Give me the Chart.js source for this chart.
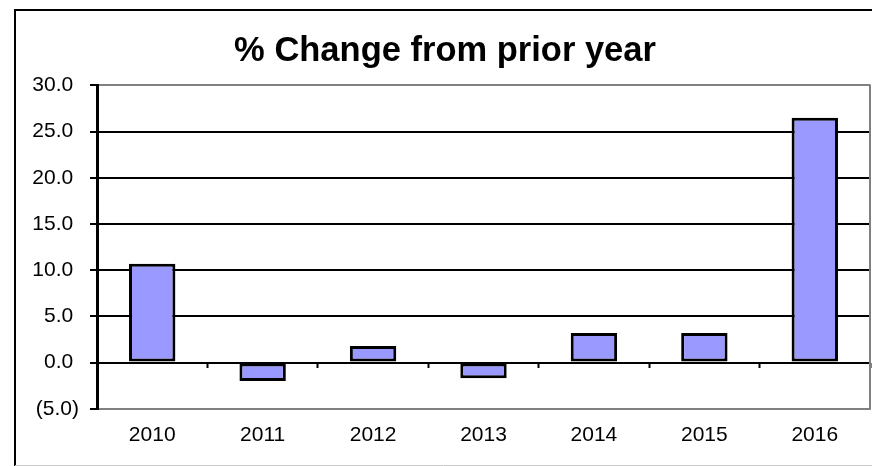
<!DOCTYPE html>
<html>
<head>
<meta charset="utf-8">
<script src="https://cdn.jsdelivr.net/npm/chart.js@4"></script>
<style>
  html, body { margin: 0; padding: 0; background: #fff; }
  #wrap { width: 872px; height: 466px; }
</style>
</head>
<body>
<div id="wrap"><canvas id="myChart" width="872" height="466"></canvas></div>
<script>
var years = ['2010', '2011', '2012', '2013', '2014', '2015', '2016'];
var pctChange = [10.7, -2.0, 1.8, -1.7, 3.2, 3.2, 26.5];
var yMin = -5, yMax = 30, yStep = 5;

function fmtTick(v) {
    // excel style: negatives in parens, positives padded for the paren
    return v < 0 ? '(' + Math.abs(v).toFixed(1) + ')' : v.toFixed(1) + ' ';
}

// outer frame + right edge of the plot area
var framePlugin = {
    id: 'frame',
    beforeDraw: function(chart) {
        var c = chart.ctx;
        c.save();
        c.fillStyle = '#fff';
        c.fillRect(0, 0, chart.width, chart.height);
        c.strokeStyle = '#000';
        c.lineWidth = 2;
        c.beginPath();
        c.moveTo(15, 466);
        c.lineTo(15, 10);
        c.lineTo(872, 10);
        c.stroke();
        c.strokeStyle = '#c8c8c8';
        c.lineWidth = 1;
        c.beginPath();
        c.moveTo(15, 465.5);
        c.lineTo(872, 465.5);
        c.stroke();
        c.restore();
    },
    afterDraw: function(chart) {
        var a = chart.chartArea, c = chart.ctx;
        c.save();
        c.strokeStyle = '#808080';
        c.lineWidth = 2;
        c.beginPath();
        c.moveTo(a.right, a.top - 1);
        c.lineTo(a.right, a.bottom + 1);
        c.stroke();
        c.restore();
    }
};

var font = "'Liberation Sans', Arial, sans-serif";

var ctx = document.getElementById('myChart').getContext('2d');
var myChart = new Chart(ctx, {
    type: 'bar',
    data: {
        labels: years,
        datasets: [{
            label: '% Change',
            data: pctChange,
            backgroundColor: '#9999ff',
            borderColor: '#000',
            borderWidth: 3,
            borderSkipped: false,
            barPercentage: 0.42,
            categoryPercentage: 1
        }]
    },
    plugins: [framePlugin],
    options: {
        responsive: false,
        animation: false,
        layout: { padding: { left: 20, right: 2, top: 10, bottom: 4 } },
        plugins: {
            legend: { display: false },
            tooltip: { enabled: false },
            title: {
                display: true,
                text: '% Change from prior year',
                color: '#000',
                font: { family: font, size: 34.5, weight: 'bold' },
                padding: { top: 21, bottom: 13 }
            }
        },
        scales: {
            x: {
                offset: true,
                grid: { display: false, drawTicks: false, offset: true },
                border: { display: false },
                ticks: { color: '#000', padding: 14, font: { family: font, size: 21 } }
            },
            x2: {
                axis: 'x',
                type: 'category',
                labels: years,
                position: { y: 0 },
                offset: true,
                grid: {
                    offset: true,
                    drawOnChartArea: false,
                    drawTicks: true,
                    tickLength: 5,
                    tickWidth: 2,
                    tickColor: '#000'
                },
                border: { display: false },
                ticks: { display: false }
            },
            y: {
                min: yMin,
                max: yMax,
                afterFit: function(s) { s.width = 77; },
                ticks: {
                    stepSize: yStep,
                    color: '#000',
                    padding: 11,
                    font: { family: font, size: 21 },
                    callback: function(v) { return fmtTick(v); }
                },
                grid: {
                    color: function(c) {
                        var v = c.tick ? c.tick.value : 0;
                        return (v === yMin || v === yMax) ? '#808080' : '#000';
                    },
                    lineWidth: 2,
                    tickLength: 7,
                    tickWidth: 2,
                    tickColor: '#000'
                },
                border: { display: true, color: '#000', width: 3 }
            }
        }
    }
});
</script>
</body>
</html>
